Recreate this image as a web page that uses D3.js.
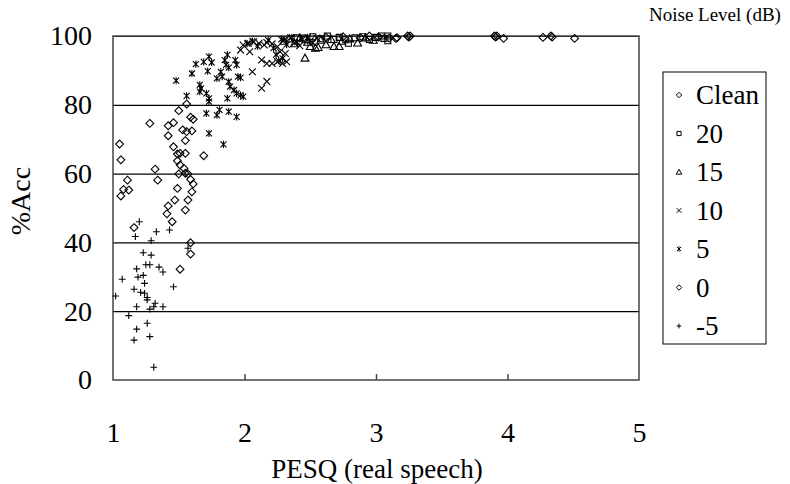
<!DOCTYPE html>
<html><head>
<meta charset="utf-8"/>
<title>PESQ vs %Acc</title>
<script src="https://d3js.org/d3.v7.min.js"></script>
<style>
    body { margin: 0; padding: 0; width: 790px; height: 484px; background: #fff; overflow: hidden; }
</style>
</head>
<body>
<div id="chart"></div>
<script>
    // Data: [PESQ, %Acc]
    const seriesNames = ["Clean", "20", "15", "10", "5", "0", "-5"];
    const seriesShapes = ["diamond", "square", "triangle", "x", "star", "diamond", "plus"];

    const clean = [[2.62,99.6],[2.75,99.8],[2.88,99.5],[2.95,100],[3.02,99.7],[3.10,99.4],[3.15,99.3],[3.16,99.5],
        [3.24,100],[3.25,99.7],[3.26,100],[3.90,100],[3.91,99.7],[3.92,100],[3.97,99.3],[4.27,99.6],[4.33,100],[4.34,99.7],[4.51,99.3]];
    const db20 = [[2.40,99.5],[2.45,99.4],[2.46,98.9],[2.52,99.8],[2.58,99.2],[2.63,100],[2.68,99.0],[2.72,99.6],[2.77,98.9],
        [2.79,97.9],[2.84,99.5],[2.90,99.8],[2.95,99.0],[3.00,99.6],[3.04,100],[3.06,99.3],[3.09,98.6],[3.09,100]];
    const db15 = [[2.30,98.5],[2.34,99.2],[2.38,97.8],[2.42,99.5],[2.46,93.6],[2.48,98.2],[2.50,97.0],[2.54,96.5],[2.56,96.7],
        [2.58,98.8],[2.62,97.5],[2.66,99.0],[2.68,97.0],[2.72,97.0],[2.74,98.5],[2.80,99.2],[2.86,98.0],[2.92,99.5],[2.98,98.8]];
    const db10 = [[1.99,97.4],[2.03,97.9],[2.07,98.3],[2.11,97.9],[2.15,97.4],[2.17,98.1],[2.21,97.7],[2.25,96.9],[2.27,95.4],
        [2.31,94.9],[2.32,92.5],[2.13,93.0],[2.17,92.0],[2.21,92.0],[2.25,92.5],[2.29,92.0],[2.04,95.4],[1.97,95.9],[2.06,89.6],
        [2.17,86.8],[2.13,84.8],[2.30,98.8],[2.35,99.5],[2.38,98.0],[2.42,97.2],[2.50,98.6],[2.55,99.4]];
    const db5 = [[1.48,87.0],[1.56,82.6],[1.60,89.1],[1.63,91.8],[1.69,92.5],[1.73,94.0],[1.75,92.3],[1.72,89.8],[1.66,85.8],
        [1.67,84.8],[1.66,83.8],[1.71,83.3],[1.73,81.9],[1.79,87.7],[1.82,89.6],[1.83,88.2],[1.85,93.0],[1.87,94.5],[1.86,91.6],
        [1.88,90.8],[1.93,93.0],[1.94,91.6],[1.97,87.9],[1.95,88.2],[1.88,86.7],[1.89,85.3],[1.92,84.3],[1.94,83.3],[1.97,82.8],
        [1.99,82.4],[1.87,81.9],[1.73,80.9],[1.71,77.5],[1.79,77.0],[1.81,78.5],[1.88,78.0],[1.94,76.5],[1.73,71.7],[1.84,68.5],
        [2.02,97.8],[2.06,98.5],[2.10,97.0],[2.18,98.8],[2.22,96.5],[2.28,99.0],[2.32,97.5],[2.36,99.6],[2.40,98.2],[2.44,99.0],
        [2.48,99.6],[2.52,98.0],[2.26,92.8],[2.29,93.5],[2.24,94.6]];
    const db0 = [[1.56,80.2],[1.50,78.3],[1.59,76.4],[1.61,75.8],[1.28,74.6],[1.42,73.9],[1.46,74.8],[1.53,72.7],[1.56,72.2],
        [1.60,72.4],[1.42,71.0],[1.55,69.6],[1.05,68.6],[1.46,67.8],[1.49,65.7],[1.51,65.9],[1.55,65.9],[1.69,65.2],[1.06,64.0],
        [1.49,63.7],[1.51,62.5],[1.54,61.5],[1.32,61.3],[1.50,59.9],[1.55,60.1],[1.57,59.9],[1.59,58.3],[1.61,57.0],[1.11,58.1],
        [1.34,58.1],[1.08,55.4],[1.12,55.2],[1.06,53.5],[1.49,55.7],[1.60,54.7],[1.57,52.3],[1.47,52.3],[1.42,50.6],[1.55,49.4],
        [1.41,48.3],[1.45,46.0],[1.16,44.3],[1.59,39.9],[1.59,36.6],[1.51,32.2]];
    const dbm5 = [[1.20,46.0],[1.17,41.7],[1.33,43.1],[1.43,43.6],[1.29,40.5],[1.57,38.3],[1.23,37.0],[1.29,36.3],[1.18,32.3],
        [1.25,33.5],[1.28,33.5],[1.35,32.8],[1.38,31.4],[1.07,29.3],[1.19,29.9],[1.23,30.4],[1.24,28.1],[1.46,27.1],[1.02,24.4],
        [1.16,26.4],[1.21,25.5],[1.24,25.2],[1.26,24.0],[1.26,23.3],[1.18,21.3],[1.32,22.3],[1.31,21.3],[1.28,20.6],[1.38,21.3],
        [1.12,18.7],[1.26,16.5],[1.18,14.8],[1.28,12.6],[1.16,11.6],[1.31,3.7]];
    const seriesValues = [clean, db20, db15, db10, db5, db0, dbm5];

    const xTicks = [1, 2, 3, 4, 5];
    const yTicks = [0, 20, 40, 60, 80, 100];

    const W = 790, H = 484;
    const plot = { left: 113, right: 639, top: 36, bottom: 380 };
    const serif = "'Liberation Serif', 'Times New Roman', serif";

    const svg = d3.select("#chart").append("svg")
        .attr("width", W).attr("height", H);

    const x = d3.scaleLinear().domain([1, 5]).range([plot.left, plot.right]);
    const y = d3.scaleLinear().domain([0, 100]).range([plot.bottom, plot.top]);

    // marker outlines, centred on 0,0
    function shapePath(kind, s) {
        const r = 3.9 * s;
        switch (kind) {
            case "diamond": return `M0,${-r}L${r},0L0,${r}L${-r},0Z`;
            case "square": { const h = 3 * s; return `M${-h},${-h}H${h}V${h}H${-h}Z`; }
            case "triangle": return `M0,${-r}L${r},${0.8 * r}L${-r},${0.8 * r}Z`;
            case "x": { const h = 3.4 * s; return `M${-h},${-h}L${h},${h}M${-h},${h}L${h},${-h}`; }
            case "star": { const h = 3 * s; return `M${-h},${-h}L${h},${h}M${-h},${h}L${h},${-h}M0,${-h - 0.6}V${h + 0.6}`; }
            case "plus": { const h = 3.4 * s; return `M${-h},0H${h}M0,${-h}V${h}`; }
        }
    }

    // horizontal gridlines
    svg.append("g")
        .attr("transform", `translate(${plot.left},0)`)
        .call(d3.axisLeft(y).tickValues(yTicks.filter(d => d > 0)).tickSize(-(plot.right - plot.left)).tickFormat(""))
        .call(g => g.select(".domain").remove())
        .call(g => g.selectAll(".tick line").attr("stroke", "#000").attr("stroke-width", 1.2));

    // y tick labels
    svg.append("g")
        .attr("transform", `translate(${plot.left},0)`)
        .call(d3.axisLeft(y).tickValues(yTicks).tickSize(0).tickPadding(21).tickFormat(d3.format("d")))
        .call(g => g.select(".domain").remove())
        .call(g => g.selectAll("text").style("font-family", serif).style("font-size", "28px"));

    // x axis: small inward ticks, labels further down
    svg.append("g")
        .attr("transform", `translate(0,${plot.bottom})`)
        .call(d3.axisTop(x).tickValues(xTicks.slice(1, -1)).tickSize(6).tickFormat(""))
        .call(g => g.select(".domain").remove())
        .call(g => g.selectAll(".tick line").attr("stroke", "#444").attr("stroke-width", 1.5));
    svg.append("g")
        .attr("transform", `translate(0,${plot.bottom})`)
        .call(d3.axisBottom(x).tickValues(xTicks).tickSize(0).tickPadding(42).tickFormat(d3.format("d")))
        .call(g => g.select(".domain").remove())
        .call(g => g.selectAll("text").style("font-family", serif).style("font-size", "28px"));

    // plot frame
    svg.append("rect")
        .attr("x", plot.left).attr("y", plot.top)
        .attr("width", plot.right - plot.left).attr("height", plot.bottom - plot.top)
        .attr("fill", "none").attr("stroke", "#444").attr("stroke-width", 1.5);

    // points
    seriesValues.forEach((vals, i) => {
        svg.append("g").selectAll("path")
            .data(vals)
            .enter().append("path")
            .attr("d", shapePath(seriesShapes[i], 1))
            .attr("transform", d => `translate(${x(d[0])},${y(d[1])})`)
            .attr("fill", "none")
            .attr("stroke", "#000")
            .attr("stroke-width", 1.1);
    });

    // axis titles
    svg.append("text")
        .attr("x", 377).attr("y", 478)
        .attr("text-anchor", "middle")
        .style("font-family", serif)
        .style("font-size", "27px")
        .text("PESQ (real speech)");
    svg.append("text")
        .attr("transform", `translate(30,${y(52)}) rotate(-90)`)
        .attr("text-anchor", "middle")
        .style("font-family", serif)
        .style("font-size", "28px")
        .text("%Acc");

    // legend
    svg.append("text")
        .attr("x", 649).attr("y", 21)
        .style("font-family", serif)
        .style("font-size", "19px")
        .text("Noise Level (dB)");
    const legend = svg.append("g");
    legend.append("rect")
        .attr("x", 663).attr("y", 72).attr("width", 103).attr("height", 272)
        .attr("fill", "#fff").attr("stroke", "#000").attr("stroke-width", 1);
    const rows = legend.selectAll("g.row")
        .data(seriesNames)
        .enter().append("g")
        .attr("class", "row")
        .attr("transform", (d, i) => `translate(679,${95 + i * 38.5})`);
    rows.append("path")
        .attr("d", (d, i) => shapePath(seriesShapes[i], 0.7))
        .attr("fill", "none").attr("stroke", "#000").attr("stroke-width", 1);
    rows.append("text")
        .attr("x", 17).attr("dy", "0.35em")
        .style("font-family", serif)
        .style("font-size", "27px")
        .text(d => d);
</script>
</body></html>
